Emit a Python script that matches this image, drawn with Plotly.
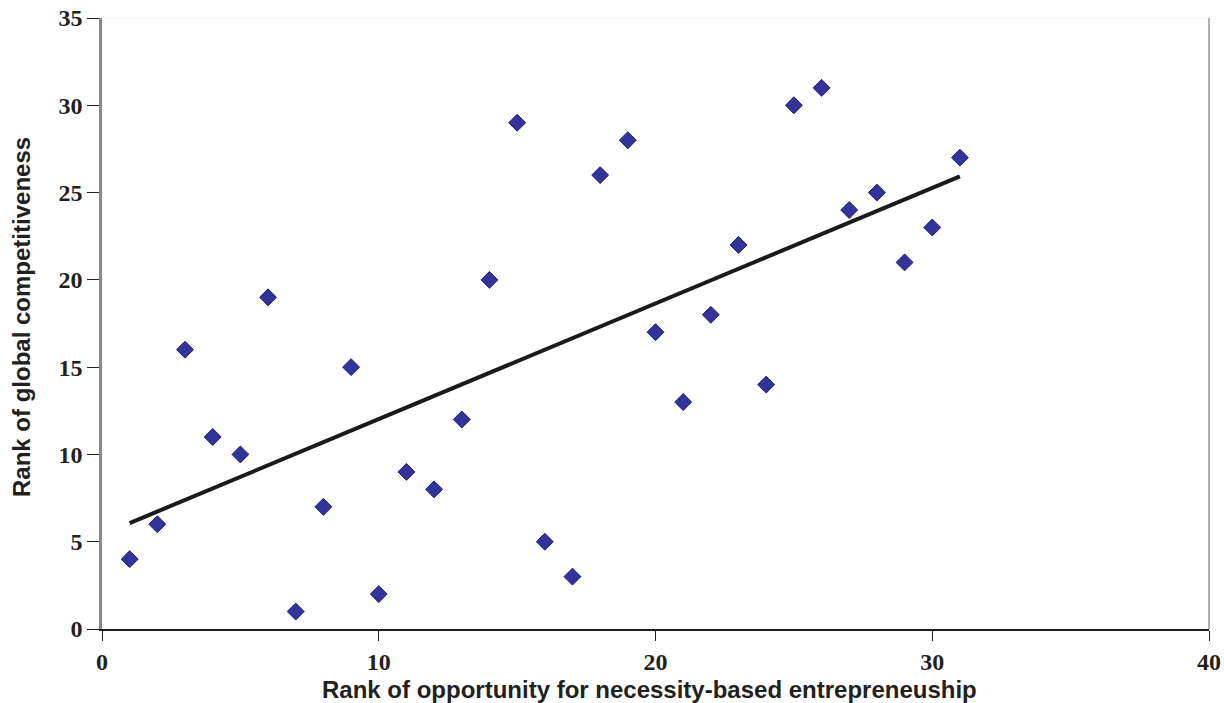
import numpy as np
import plotly.graph_objects as go

opportunity_rank = [1, 2, 3, 4, 5, 6, 7, 8, 9, 10, 11, 12, 13, 14, 15, 16,
                    17, 18, 19, 20, 21, 22, 23, 24, 25, 26, 27, 28, 29, 30, 31]
competitiveness_rank = [4, 6, 16, 11, 10, 19, 1, 7, 15, 2, 9, 8, 12, 20, 29, 5,
                        3, 26, 28, 17, 13, 18, 22, 14, 30, 31, 24, 25, 21, 23, 27]
x_ticks = [0, 10, 20, 30, 40]
y_ticks = [0, 5, 10, 15, 20, 25, 30, 35]

slope, intercept = np.polyfit(opportunity_rank, competitiveness_rank, 1)
trend_x = [min(opportunity_rank), max(opportunity_rank)]
trend_y = [slope * v + intercept for v in trend_x]

fig = go.Figure()
fig.add_trace(go.Scatter(
    x=opportunity_rank, y=competitiveness_rank, mode="markers",
    marker=dict(symbol="diamond", size=13, color="#33339c",
                line=dict(color="#1c1c6e", width=1)),
    showlegend=False, hoverinfo="x+y"))
fig.add_trace(go.Scatter(
    x=trend_x, y=trend_y, mode="lines",
    line=dict(color="#1a1a1a", width=4), showlegend=False))

tickfont = dict(family="Liberation Serif, Times New Roman, serif", size=24,
                color="#231f20", weight="bold")
titlefont = dict(family="Liberation Sans, Arial, sans-serif", size=24,
                 color="#231f20", weight="bold")

fig.update_layout(
    width=1224, height=703,
    margin=dict(l=102, r=15, t=18, b=74, autoexpand=False),
    paper_bgcolor="white", plot_bgcolor="white",
    xaxis=dict(range=[0, 40], tickvals=x_ticks, showgrid=False, zeroline=False,
               showline=True, linecolor="#231f20", linewidth=1.5,
               ticks="outside", ticklen=10, tickcolor="#231f20", tickwidth=1.2,
               tickfont=tickfont, automargin=False, ticklabeloverflow="allow"),
    yaxis=dict(range=[0, 35], tickvals=y_ticks, showgrid=False, zeroline=False,
               showline=True, linecolor="#8a8a8a", linewidth=2.5,
               ticks="outside", ticklen=12, tickcolor="#231f20", tickwidth=1.2,
               tickfont=tickfont, automargin=False, ticklabeloverflow="allow"),
    shapes=[
        dict(type="line", xref="paper", yref="paper", x0=0, x1=1, y0=1, y1=1,
             line=dict(color="#eeeeee", width=1)),
        dict(type="line", xref="paper", yref="paper", x0=1, x1=1, y0=0, y1=1,
             line=dict(color="#b0b0b0", width=2)),
    ],
    annotations=[
        dict(text="Rank of opportunity for necessity-based entrepreneuship",
             xref="paper", yref="paper", x=0.5, y=0, xanchor="center",
             yanchor="top", xshift=-6, yshift=-45, showarrow=False,
             font=titlefont),
        dict(text="Rank of global competitiveness", textangle=-90,
             xref="paper", yref="paper", x=0, y=0.5, xanchor="right",
             yanchor="middle", xshift=-65, yshift=6, showarrow=False,
             font=titlefont),
    ],
)

fig.write_html(
    "out.html",
    config={"displayModeBar": False},
    post_script="document.body.style.margin='0';document.body.style.overflow='hidden';",
)
